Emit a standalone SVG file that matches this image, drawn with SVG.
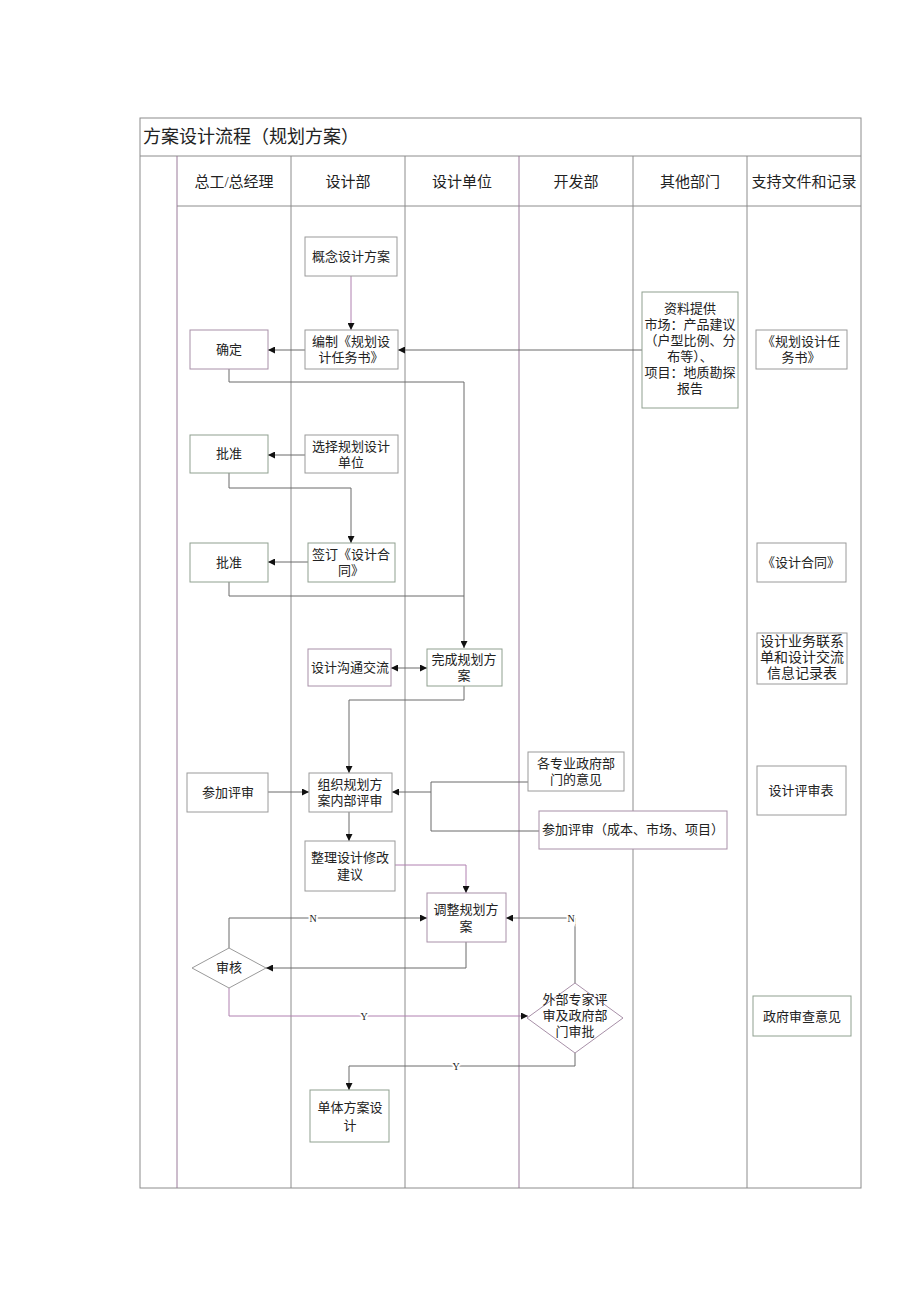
<svg xmlns="http://www.w3.org/2000/svg" width="920" height="1302" viewBox="0 0 920 1302">
<style>
text{font-family:"Liberation Serif","Noto Sans CJK SC",serif;fill:#222;text-anchor:middle}
.t{font-size:13px}
.h{font-size:15px}
.lb{font-size:10px;paint-order:stroke;stroke:#fff;stroke-width:4px}
.tbl{fill:none;stroke:#8c8c8c;stroke-width:1}
.lane{stroke:#8c8c8c;stroke-width:1}
.lanep{stroke:#9a7a9a;stroke-width:1}
.box{fill:#fff;stroke:#9a9a9a;stroke-width:1}
.boxg{fill:#fff;stroke:#8fa08f;stroke-width:1}
.boxp{fill:#fff;stroke:#a890a8;stroke-width:1}
.c{fill:none;stroke:#6a6a6a;stroke-width:1}
.cp{fill:none;stroke:#b080b0;stroke-width:1}
</style>
<defs>
<marker id="a" viewBox="0 0 10 10" refX="10" refY="5" markerWidth="7" markerHeight="7" orient="auto-start-reverse" markerUnits="userSpaceOnUse">
<path d="M0,0 L10,5 L0,10 z" fill="#111"/>
</marker>
</defs>
<rect width="920" height="1302" fill="#fff"/>
<g id="table">
<rect class="tbl" x="140" y="118" width="721" height="1070"/>
<line class="lane" x1="140" y1="156" x2="861" y2="156"/>
<line class="lane" x1="177" y1="206" x2="861" y2="206"/>
<line class="lanep" x1="177" y1="156" x2="177" y2="1188"/>
<line class="lane" x1="291" y1="156" x2="291" y2="1188"/>
<line class="lane" x1="405" y1="156" x2="405" y2="1188"/>
<line class="lanep" x1="519" y1="156" x2="519" y2="1188"/>
<line class="lane" x1="633" y1="156" x2="633" y2="1188"/>
<line class="lane" x1="747" y1="156" x2="747" y2="1188"/>
<text x="143" y="143" style="font-size:18px;text-anchor:start">方案设计流程（规划方案）</text>
<text class="h" x="234" y="187">总工/总经理</text>
<text class="h" x="348" y="187">设计部</text>
<text class="h" x="462" y="187">设计单位</text>
<text class="h" x="576" y="187">开发部</text>
<text class="h" x="690" y="187">其他部门</text>
<text class="h" x="804" y="187">支持文件和记录</text>
</g>
<g id="connectors">
<path class="cp" d="M351,276 V330" marker-end="url(#a)"/>
<path class="c" d="M642,350 H398" marker-end="url(#a)"/>
<path class="c" d="M305,350 H268" marker-end="url(#a)"/>
<path class="c" d="M229,369 V382 H464 V648" marker-end="url(#a)"/>
<path class="c" d="M305,455 H268" marker-end="url(#a)"/>
<path class="c" d="M229,473 V488 H351 V543" marker-end="url(#a)"/>
<path class="c" d="M308,562 H268" marker-end="url(#a)"/>
<path class="c" d="M229,582 V596 H464"/>
<path class="c" d="M391,668 H427" marker-start="url(#a)" marker-end="url(#a)"/>
<path class="c" d="M464,686 V700 H349 V773" marker-end="url(#a)"/>
<path class="c" d="M268,792 H309" marker-end="url(#a)"/>
<path class="c" d="M528,782 H431 V831 H539"/>
<path class="c" d="M431,792 H392" marker-end="url(#a)"/>
<path class="c" d="M349,812 V841" marker-end="url(#a)"/>
<path class="cp" d="M395,865 H466 V893" marker-end="url(#a)"/>
<path class="c" d="M466,942 V968 H266" marker-end="url(#a)"/>
<path class="c" d="M229,948 V918 H427" marker-end="url(#a)"/>
<path class="c" d="M575,983 V918 H506" marker-end="url(#a)"/>
<path class="cp" d="M229,988 V1016 H528" marker-end="url(#a)"/>
<path class="c" d="M575,1053 V1066 H349 V1090" marker-end="url(#a)"/>
<text class="lb" x="313" y="922">N</text>
<text class="lb" x="571" y="922">N</text>
<text class="lb" x="364" y="1020">Y</text>
<text class="lb" x="456" y="1070">Y</text>
</g>
<g id="n1"><rect class="box" x="305" y="237" width="92" height="39"/><text class="t" x="351" y="261">概念设计方案</text></g>
<g id="n2"><rect class="box" x="305" y="330" width="93" height="39"/><text class="t" x="351" y="346">编制《规划设</text><text class="t" x="351" y="362">计任务书》</text></g>
<g id="n3"><rect class="boxp" x="190" y="330" width="78" height="39"/><text class="t" x="229" y="354">确定</text></g>
<g id="n4"><rect class="boxg" x="642" y="292" width="96" height="116"/>
<text class="t" x="690" y="313">资料提供</text>
<text class="t" x="690" y="329">市场：产品建议</text>
<text class="t" x="690" y="345">（户型比例、分</text>
<text class="t" x="690" y="361">布等）、</text>
<text class="t" x="690" y="377">项目：地质勘探</text>
<text class="t" x="690" y="393">报告</text></g>
<g id="n5"><rect class="box" x="756" y="330" width="91" height="39"/><text class="t" x="801" y="346">《规划设计任</text><text class="t" x="801" y="362">务书》</text></g>
<g id="n6"><rect class="box" x="305" y="435" width="93" height="38"/><text class="t" x="351" y="451">选择规划设计</text><text class="t" x="351" y="467">单位</text></g>
<g id="n7"><rect class="boxg" x="190" y="435" width="78" height="38"/><text class="t" x="229" y="458">批准</text></g>
<g id="n8"><rect class="boxg" x="308" y="543" width="87" height="39"/><text class="t" x="351" y="559">签订《设计合</text><text class="t" x="351" y="575">同》</text></g>
<g id="n9"><rect class="boxg" x="190" y="543" width="78" height="39"/><text class="t" x="229" y="567">批准</text></g>
<g id="n10"><rect class="box" x="757" y="543" width="89" height="39"/><text class="t" x="801" y="567">《设计合同》</text></g>
<g id="n11"><rect class="boxp" x="308" y="649" width="83" height="37"/><text class="t" x="350" y="672">设计沟通交流</text></g>
<g id="n12"><rect class="boxg" x="427" y="649" width="75" height="37"/><text class="t" x="464" y="664">完成规划方</text><text class="t" x="464" y="680">案</text></g>
<g id="n13"><rect class="box" x="757" y="633" width="90" height="51"/><text class="t" x="802" y="646" style="font-size:14px">设计业务联系</text><text class="t" x="802" y="662" style="font-size:14px">单和设计交流</text><text class="t" x="802" y="678" style="font-size:14px">信息记录表</text></g>
<g id="n14"><rect class="box" x="187" y="773" width="81" height="39"/><text class="t" x="228" y="797">参加评审</text></g>
<g id="n15"><rect class="box" x="309" y="773" width="83" height="39"/><text class="t" x="350" y="789">组织规划方</text><text class="t" x="350" y="805">案内部评审</text></g>
<g id="n16"><rect class="box" x="528" y="752" width="96" height="39"/><text class="t" x="576" y="768">各专业政府部</text><text class="t" x="576" y="784">门的意见</text></g>
<g id="n17"><rect class="boxp" x="539" y="811" width="188" height="38"/><text class="t" x="633" y="834">参加评审（成本、市场、项目）</text></g>
<g id="n18"><rect class="box" x="757" y="766" width="89" height="49"/><text class="t" x="801" y="795">设计评审表</text></g>
<g id="n19"><rect class="box" x="305" y="841" width="90" height="50"/><text class="t" x="350" y="862">整理设计修改</text><text class="t" x="350" y="879">建议</text></g>
<g id="n20"><rect class="boxp" x="427" y="893" width="79" height="49"/><text class="t" x="466" y="914">调整规划方</text><text class="t" x="466" y="931">案</text></g>
<g id="n21"><polygon class="box" points="229,948 266,968 229,988 192,968"/><text class="t" x="229" y="972">审核</text></g>
<g id="n22"><polygon class="boxp" points="575,983 623,1018 575,1053 527,1018"/><text class="t" x="575" y="1004">外部专家评</text><text class="t" x="575" y="1020">审及政府部</text><text class="t" x="575" y="1036">门审批</text></g>
<g id="n23"><rect class="boxg" x="753" y="996" width="98" height="40"/><text class="t" x="802" y="1021">政府审查意见</text></g>
<g id="n24"><rect class="boxg" x="310" y="1090" width="79" height="52"/><text class="t" x="350" y="1112">单体方案设</text><text class="t" x="350" y="1130">计</text></g>
</svg>
